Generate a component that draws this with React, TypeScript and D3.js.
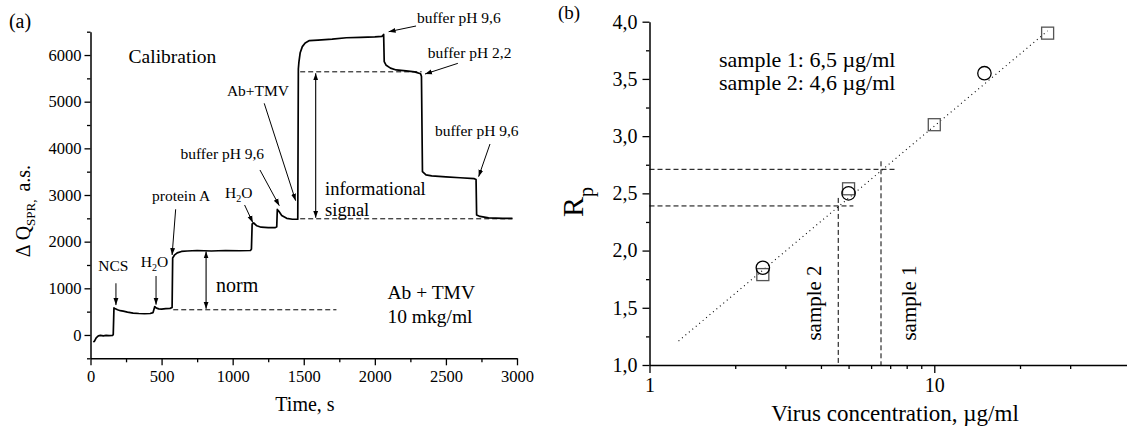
import { useEffect, useRef } from "react";
import * as d3 from "d3";

const width = 1127;
const height = 428;
const serif = "'Liberation Serif', 'Times New Roman', serif";

// (a) SPR response vs time
const timeS = [
  20, 28, 40, 55, 70, 90, 110, 130, 155, 160, 165, 175, 190, 210, 230, 260, 300, 340, 380, 420, 440,
  452, 458, 465, 480, 500, 530, 560, 574, 578, 590, 610, 640, 680, 750, 850, 950, 1050, 1125, 1132,
  1137, 1148, 1170, 1200, 1250, 1300, 1310, 1314, 1325, 1345, 1380, 1420, 1458, 1462, 1466, 1475,
  1490, 1510, 1540, 1600, 1700, 1800, 1900, 2000, 2050, 2062, 2066, 2080, 2110, 2150, 2220, 2280,
  2322, 2328, 2335, 2360, 2400, 2500, 2600, 2700, 2712, 2716, 2740, 2800, 2900, 2968,
];
const deltaQ = [
  -150, -130, -60, -20, -10, -20, -10, -15, -10, 10, 580, 560, 540, 520, 510, 490, 470, 460, 455, 460,
  480, 610, 590, 575, 560, 555, 565, 570, 590, 1650, 1710, 1760, 1790, 1800, 1810, 1800, 1810, 1805,
  1810, 1840, 2380, 2400, 2340, 2310, 2300, 2300, 2320, 2690, 2650, 2560, 2500, 2480, 2480, 5700,
  5850, 6050, 6180, 6260, 6310, 6320, 6340, 6370, 6380, 6390, 6400, 6440, 5860, 5780, 5720, 5680,
  5660, 5640, 5600, 5540, 3500, 3430, 3410, 3390, 3370, 3350, 3330, 2570, 2540, 2510, 2500, 2500,
];
const timeTicks = [0, 500, 1000, 1500, 2000, 2500, 3000];
const timeMinor = [250, 750, 1250, 1750, 2250, 2750];
const qTicks = [0, 1000, 2000, 3000, 4000, 5000, 6000];
const qMinor = [-500, 500, 1500, 2500, 3500, 4500, 5500, 6500];

// dashed reference levels: [t from, t to, level]
const levelsA = [
  [582, 1730, 540],
  [1475, 2968, 2490],
  [1475, 2329, 5640],
];
// double arrows: [t, level from, level to]
const spansA = [
  [813, 1790, 560],
  [1584, 5610, 2510],
];
// labels with pointer arrows (data coords)
const notesA = [
  { text: "NCS", t: 161, v: 1371, from: [179, 1108], to: [179, 640] },
  { text: "H2O", t: 450, v: 1457, from: [461, 1264], to: [461, 650] },
  { text: "protein A", t: 637, v: 2871, from: [599, 2694], to: [574, 1714] },
  { text: "H2O", t: 1042, v: 2936, from: [1084, 2786], to: [1142, 2407] },
  { text: "buffer pH 9,6", t: 927, v: 3771, from: [1192, 3536], to: [1328, 2771] },
  { text: "Ab+TMV", t: 1178, v: 5122, from: [1222, 4965], to: [1443, 2878] },
  { text: "buffer pH 9,6", t: 2591, v: 6686, from: [2290, 6622], to: [2097, 6500] },
  { text: "buffer pH 2,2", t: 2667, v: 5936, from: [2584, 5822], to: [2353, 5593] },
  { text: "buffer pH 9,6", t: 2717, v: 4264, from: [2810, 4093], to: [2730, 3393] },
];

// (b) calibration
const concSquares = [2.5, 5, 10, 25];
const rpSquares = [1.79, 2.54, 3.1, 3.9];
const concCircles = [2.5, 5, 15];
const rpCircles = [1.85, 2.5, 3.55];
const fitConc = [1.265, 25];
const fitRp = [1.21, 3.92];
const samples = [
  { name: "sample 1", conc: 6.5, rp: 2.71 },
  { name: "sample 2", conc: 4.6, rp: 2.39 },
];
const rpTicks = [1, 1.5, 2, 2.5, 3, 3.5, 4];
const rpMinor = [1.25, 1.75, 2.25, 2.75, 3.25, 3.75];
const concTicks = [1, 10];
const concMinor = [2, 3, 4, 5, 6, 7, 8, 9, 20, 30];

function App() {
  const ref = useRef<SVGSVGElement>(null);

  useEffect(() => {
    const svg = d3.select(ref.current);
    svg.selectAll("*").remove();

    svg
      .append("defs")
      .append("marker")
      .attr("id", "head")
      .attr("viewBox", "0 0 10 10")
      .attr("refX", 10)
      .attr("refY", 5)
      .attr("markerWidth", 7)
      .attr("markerHeight", 7)
      .attr("markerUnits", "userSpaceOnUse")
      .attr("orient", "auto-start-reverse")
      .append("path")
      .attr("d", "M0,1.5L10,5L0,8.5Z")
      .attr("fill", "#000");

    const text = (g: any, x: number, y: number, s: string, size: number, anchor = "start") =>
      g
        .append("text")
        .attr("x", x)
        .attr("y", y)
        .attr("font-size", size)
        .attr("font-family", serif)
        .attr("text-anchor", anchor)
        .attr("fill", "#000")
        .text(s);

    const styleAxis = (g: any, size: number) => {
      g.select(".domain").attr("stroke-width", 1.5);
      g.selectAll(".tick line").attr("stroke-width", 1.3);
      g.selectAll("text").attr("font-family", serif).attr("font-size", size);
    };

    // ---------- (a) ----------
    const x = d3.scaleLinear().domain([0, 3000]).range([90.5, 517]);
    const y = d3.scaleLinear().domain([-500, 6500]).range([358.3, 31.7]);
    const a = svg.append("g");
    const plain = (d: any) => String(d);

    a.append("g")
      .attr("transform", `translate(0,${y(-500)})`)
      .call(d3.axisBottom(x).tickValues(timeMinor).tickSize(4).tickFormat(() => ""))
      .call((g: any) => g.select(".domain").remove());
    a.append("g")
      .attr("transform", `translate(0,${y(-500)})`)
      .call(d3.axisBottom(x).tickValues(timeTicks).tickSize(7).tickSizeOuter(0).tickPadding(5).tickFormat(plain))
      .call((g: any) => styleAxis(g, 16.5));
    a.append("g")
      .attr("transform", `translate(${x(0)},0)`)
      .call(d3.axisLeft(y).tickValues(qMinor).tickSize(3.5).tickFormat(() => ""))
      .call((g: any) => g.select(".domain").remove());
    a.append("g")
      .attr("transform", `translate(${x(0)},0)`)
      .call(d3.axisLeft(y).tickValues(qTicks).tickSize(6).tickSizeOuter(0).tickPadding(3).tickFormat(plain))
      .call((g: any) => styleAxis(g, 16.5));
    a.selectAll(".tick line").attr("stroke-width", 1.3);

    const line = d3
      .line<number>()
      .x((d, i) => x(timeS[i]))
      .y((d) => y(d));
    a.append("path")
      .datum(deltaQ)
      .attr("fill", "none")
      .attr("stroke", "#000")
      .attr("stroke-width", 1.7)
      .attr("stroke-linejoin", "round")
      .attr("d", line);

    levelsA.forEach(([t0, t1, v]) =>
      a.append("line")
        .attr("x1", x(t0)).attr("x2", x(t1)).attr("y1", y(v)).attr("y2", y(v))
        .attr("stroke", "#000").attr("stroke-width", 1).attr("stroke-dasharray", "5,3")
    );
    spansA.forEach(([t, v0, v1]) =>
      a.append("line")
        .attr("x1", x(t)).attr("x2", x(t)).attr("y1", y(v0)).attr("y2", y(v1))
        .attr("stroke", "#000").attr("stroke-width", 1.1)
        .attr("marker-start", "url(#head)").attr("marker-end", "url(#head)")
    );

    notesA.forEach((n) => {
      const tx = a.append("text")
        .attr("x", x(n.t)).attr("y", y(n.v))
        .attr("font-size", 15.5).attr("font-family", serif).attr("text-anchor", "middle");
      if (n.text === "H2O") {
        tx.append("tspan").text("H");
        tx.append("tspan").attr("font-size", 10).attr("dy", 4).text("2");
        tx.append("tspan").attr("dy", -4).text("O");
      } else tx.text(n.text);
      a.append("line")
        .attr("x1", x(n.from[0])).attr("y1", y(n.from[1]))
        .attr("x2", x(n.to[0])).attr("y2", y(n.to[1]))
        .attr("stroke", "#000").attr("stroke-width", 1)
        .attr("marker-end", "url(#head)");
    });

    text(a, x(268), y(5829), "Calibration", 19.5);
    text(a, x(1650), y(3010), "informational", 18.5);
    text(a, x(1650), y(2560), "signal", 18.5);
    text(a, x(883), y(928), "norm", 20);
    text(a, x(2089), y(771), "Ab + TMV", 19.5);
    text(a, x(2089), y(257), "10 mkg/ml", 19.5);
    text(a, 20, 28, "(a)", 20, "middle");
    text(a, 305, 411, "Time, s", 20, "middle");

    const yl = a.append("text")
      .attr("transform", "translate(30,211) rotate(-90)")
      .attr("font-size", 20).attr("font-family", serif).attr("text-anchor", "middle");
    yl.append("tspan").text("\u0394 Q");
    yl.append("tspan").attr("font-size", 13).attr("dy", 5).text("SPR,");
    yl.append("tspan").attr("dy", -5).attr("dx", 8).text("a.s.");

    // ---------- (b) ----------
    const cx = d3.scaleLog().domain([1, 47.5]).range([649.5, 1127]);
    const cy = d3.scaleLinear().domain([1, 4]).range([365, 21.7]);
    const b = svg.append("g");
    const comma = (d: any) => d3.format(".1f")(d).replace(".", ",");

    b.append("g")
      .attr("transform", `translate(0,${cy(1)})`)
      .call(d3.axisBottom(cx).tickValues(concMinor).tickSize(4).tickFormat(() => ""))
      .call((g: any) => g.select(".domain").remove());
    b.append("g")
      .attr("transform", `translate(0,${cy(1)})`)
      .call(d3.axisBottom(cx).tickValues(concTicks).tickSize(8).tickSizeOuter(0).tickPadding(5).tickFormat(plain))
      .call((g: any) => styleAxis(g, 20));
    b.append("g")
      .attr("transform", `translate(${cx(1)},0)`)
      .call(d3.axisLeft(cy).tickValues(rpMinor).tickSize(3.5).tickFormat(() => ""))
      .call((g: any) => g.select(".domain").remove());
    b.append("g")
      .attr("transform", `translate(${cx(1)},0)`)
      .call(d3.axisLeft(cy).tickValues(rpTicks).tickSize(7).tickSizeOuter(0).tickPadding(5).tickFormat(comma))
      .call((g: any) => styleAxis(g, 20));
    b.selectAll(".tick line").attr("stroke-width", 1.3);

    samples.forEach((s) => {
      b.append("line")
        .attr("x1", cx(1)).attr("x2", cx(s.conc * 1.13)).attr("y1", cy(s.rp)).attr("y2", cy(s.rp))
        .attr("stroke", "#000").attr("stroke-width", 1).attr("stroke-dasharray", "5,3");
      b.append("line")
        .attr("x1", cx(s.conc)).attr("x2", cx(s.conc)).attr("y1", cy(s.rp + 0.07)).attr("y2", cy(1))
        .attr("stroke", "#000").attr("stroke-width", 1).attr("stroke-dasharray", "5,3");
    });

    b.append("path")
      .datum(fitRp)
      .attr("fill", "none")
      .attr("stroke", "#000")
      .attr("stroke-width", 1.1)
      .attr("stroke-dasharray", "1,3.5")
      .attr("d", d3.line<number>().x((d, i) => cx(fitConc[i])).y((d) => cy(d)));

    b.selectAll(".sq")
      .data(rpSquares)
      .enter()
      .append("rect")
      .attr("x", (d, i) => cx(concSquares[i]) - 6)
      .attr("y", (d) => cy(d) - 6)
      .attr("width", 12)
      .attr("height", 12)
      .attr("fill", "none")
      .attr("stroke", "#555")
      .attr("stroke-width", 1.3);
    b.selectAll(".ci")
      .data(rpCircles)
      .enter()
      .append("circle")
      .attr("cx", (d, i) => cx(concCircles[i]))
      .attr("cy", (d) => cy(d))
      .attr("r", 6.7)
      .attr("fill", "none")
      .attr("stroke", "#000")
      .attr("stroke-width", 1.3);

    samples.forEach((s, i) => {
      text(b, 719, 67 + i * 23, `${s.name}: ${comma(s.conc)} \u00b5g/ml`, 22);
      const side = s.conc > 5 ? 35 : -17;
      b.append("text")
        .attr("transform", `translate(${cx(s.conc) + side},303) rotate(-90)`)
        .attr("font-size", 21).attr("font-family", serif).attr("text-anchor", "middle")
        .text(s.name);
    });

    text(b, 569, 19, "(b)", 19, "middle");
    text(b, 895, 421, "Virus concentration, \u00b5g/ml", 23, "middle");
    const rl = b.append("text")
      .attr("transform", "translate(583,217) rotate(-90)")
      .attr("font-size", 30).attr("font-family", serif);
    rl.append("tspan").text("R");
    rl.append("tspan").attr("font-size", 20).attr("dy", 10).text("p");
  }, []);

  return (
    <svg
      ref={ref}
      width={width}
      height={height}
      style={{ position: "absolute", left: 0, top: 0, background: "#fff" }}
    />
  );
}

export default App;
